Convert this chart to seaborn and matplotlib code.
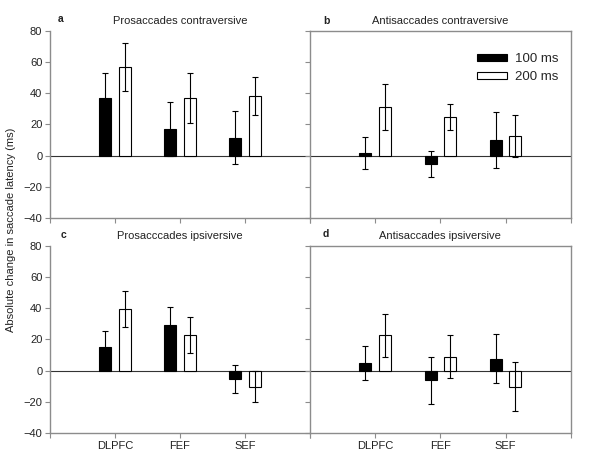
import numpy as np
import pandas as pd
import matplotlib
matplotlib.use("Agg")
import matplotlib.pyplot as plt
import seaborn as sns

# areas and delay conditions
areas = ["DLPFC", "FEF", "SEF"]
delays = ["100 ms", "200 ms"]

# mean change in latency (ms), [100 ms values, 200 ms values]
pro_contra = [[36.7, 17.1, 11.3], [56.5, 36.9, 38.0]]
pro_contra_se = [[16.2, 17.5, 17.0], [15.4, 16.3, 12.2]]
anti_contra = [[1.7, -5.3, 10.0], [31.3, 24.9, 12.6]]
anti_contra_se = [[10.5, 8.5, 17.9], [14.7, 8.3, 13.6]]
pro_ipsi = [[15.2, 29.0, -5.3], [39.5, 22.8, -10.2]]
pro_ipsi_se = [[10.4, 11.5, 9.0], [11.5, 11.5, 9.7]]
anti_ipsi = [[4.7, -6.2, 7.5], [22.6, 9.0, -10.2]]
anti_ipsi_se = [[11.0, 15.2, 15.7], [13.7, 13.6, 15.7]]

panels = [
    ("a", "Prosaccades contraversive", pro_contra, pro_contra_se),
    ("b", "Antisaccades contraversive", anti_contra, anti_contra_se),
    ("c", "Prosacccades ipsiversive", pro_ipsi, pro_ipsi_se),
    ("d", "Antisaccades ipsiversive", anti_ipsi, anti_ipsi_se),
]

sns.set_style("white")
plt.rcParams["font.family"] = ["Liberation Sans", "DejaVu Sans"]

fig = plt.figure(figsize=(6, 4.59), dpi=100)
boxes = [
    [0.0833, 0.525, 0.4334, 0.408],
    [0.5167, 0.525, 0.4345, 0.408],
    [0.0833, 0.0566, 0.4334, 0.408],
    [0.5167, 0.0566, 0.4345, 0.408],
]
letter_pos = [(0.097, 0.958), (0.538, 0.955), (0.101, 0.487), (0.537, 0.490)]
grey = "#8c8c8c"
txt = "#222222"

for k, (letter, title, vals, errs) in enumerate(panels):
    ax = fig.add_axes(boxes[k])
    df = pd.DataFrame({
        "area": areas * 2,
        "delay": [delays[0]] * 3 + [delays[1]] * 3,
        "value": vals[0] + vals[1],
        "se": errs[0] + errs[1],
    })
    sns.barplot(data=df, x="area", y="value", hue="delay", order=areas,
                hue_order=delays, palette=["black", "white"], width=0.6,
                gap=0.38, edgecolor="black", linewidth=0.8, errorbar=None,
                legend=(k == 1), ax=ax, zorder=2)
    # error bars at the centre of each bar seaborn drew
    bars = [p for p in ax.patches if p.get_width() < 0.5]
    for p, se in zip(bars, df["se"]):
        xc = p.get_x() + p.get_width() / 2
        ax.errorbar(xc, p.get_y() + p.get_height(), yerr=se, color="black",
                    elinewidth=0.8, capsize=2.5, capthick=0.8, zorder=3)
    ax.axhline(0, color="#333333", lw=0.8, zorder=1)

    ax.set_xlim(-1, 3)
    ax.set_ylim(-40, 80)
    ax.set_xticks([-1, 0, 1, 2, 3])
    ax.set_yticks(np.arange(-40, 81, 20))
    ax.set_xlabel("")
    ax.set_ylabel("")
    if k >= 2:
        ax.set_xticklabels(["", "DLPFC", "FEF", "SEF", ""], fontsize=8, color=txt)
    else:
        ax.set_xticklabels([])
    if k % 2 == 0:
        ax.tick_params(axis="y", labelsize=8, labelcolor=txt)
    else:
        ax.set_yticklabels([])
    ax.tick_params(axis="both", direction="out", length=3.5, width=0.8,
                   color=grey, left=True, bottom=True, pad=2)

    for side in ["left", "bottom", "top", "right"]:
        ax.spines[side].set_color(grey)
        ax.spines[side].set_linewidth(1.0)
    if k % 2 == 0:
        ax.spines["top"].set_visible(False)
        ax.spines["right"].set_visible(False)

    ax.set_title(title, fontsize=8, color=txt, pad=5)
    fig.text(letter_pos[k][0], letter_pos[k][1], letter, fontsize=7.5,
             fontweight="bold", color=txt, ha="left", va="center")

    if k == 1:
        h, l = ax.get_legend_handles_labels()
        ax.legend(h, l, loc="upper right", bbox_to_anchor=(0.99, 0.93),
                  frameon=False, fontsize=9.5, handlelength=2.3,
                  handleheight=0.5, handletextpad=0.6, labelspacing=0.45,
                  borderaxespad=0.3)

fig.text(0.018, 0.5, "Absolute change in saccade latency (ms)", rotation=90,
         fontsize=8, color=txt, ha="center", va="center")

fig.savefig("out.png", dpi=100)
